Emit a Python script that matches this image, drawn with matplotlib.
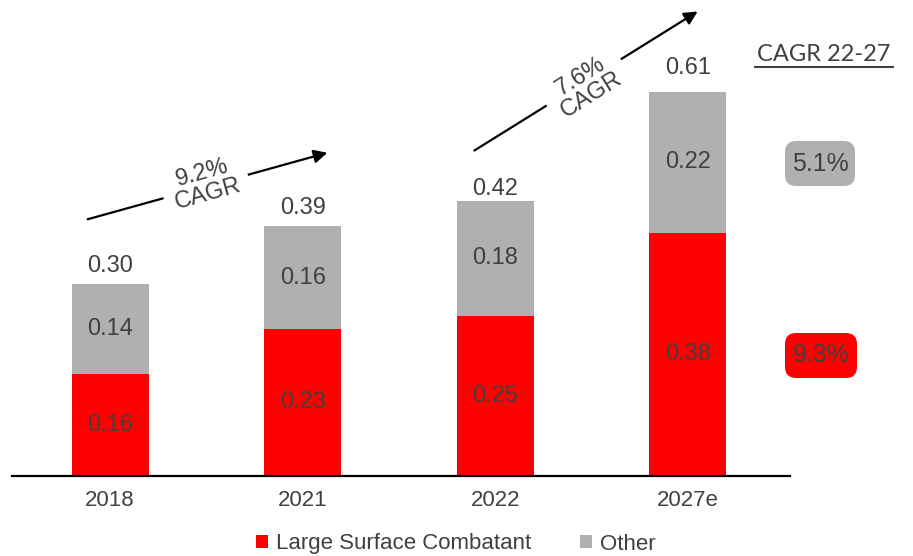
import matplotlib.pyplot as plt
from matplotlib.patches import FancyBboxPatch, FancyArrowPatch, Patch
import numpy as np

plt.rcParams['font.family'] = ['Liberation Sans', 'DejaVu Sans']

# ---- data ----
years = ["2018", "2021", "2022", "2027e"]
large_surface = [0.16, 0.23, 0.25, 0.38]
other = [0.14, 0.16, 0.18, 0.22]
totals = [0.30, 0.39, 0.42, 0.61]
cagr_labels = ["9.2%\nCAGR", "7.6%\nCAGR"]
seg_cagr = ["5.1%", "9.3%"]

RED = "#ff0000"
GREY = "#b0b0b0"
TXT = "#404040"

W, H = 913, 556
fig = plt.figure(figsize=(W / 100, H / 100), dpi=100)

def fx(px):
    return px / W

def fy(py):
    return 1 - py / H

# axes spans the baseline line from x=12 to x=790
ax = fig.add_axes([fx(12), fy(476), fx(790) - fx(12), (476 - 28) / H])
x = np.arange(len(years))
ax.bar(x, large_surface, width=0.4, color=RED)
ax.bar(x, other, width=0.4, bottom=large_surface, color=GREY)

for i in range(len(years)):
    ax.text(x[i], large_surface[i] / 2, f"{large_surface[i]:.2f}",
            ha="center", va="center", fontsize=17, color=TXT)
    ax.text(x[i], large_surface[i] + other[i] / 2, f"{other[i]:.2f}",
            ha="center", va="center", fontsize=17, color=TXT)
    ax.annotate(f"{totals[i]:.2f}", (x[i], totals[i]), xytext=(0, 5),
                textcoords="offset points", ha="center", va="bottom",
                fontsize=17, color=TXT)

ax.set_xlim(-0.509, 3.53)
ax.set_ylim(0, 0.70)
ax.set_xticks(x)
ax.set_xticklabels(years, fontsize=16, color=TXT)
ax.tick_params(axis="x", length=0, pad=10)
ax.set_yticks([])
for s in ["left", "right", "top"]:
    ax.spines[s].set_visible(False)
ax.spines["bottom"].set_linewidth(1.6)
ax.spines["bottom"].set_color("black")

# CAGR arrows across the top (start, end, label centre, angle)
arrows = [((85, 220), (330, 152), (205, 184), 15.5),
          ((472, 152), (700, 10), (586, 86), 32)]
for (p0, p1, c, ang), lab in zip(arrows, cagr_labels):
    fig.text(fx(c[0]), fy(c[1]), lab, rotation=ang, rotation_mode="anchor",
             ha="center", va="center", fontsize=17, color=TXT,
             linespacing=1.0, zorder=5,
             bbox=dict(facecolor="white", edgecolor="none", pad=7))
    fig.add_artist(FancyArrowPatch(
        (fx(p0[0]), fy(p0[1])), (fx(p1[0]), fy(p1[1])),
        transform=fig.transFigure, arrowstyle="-|>", mutation_scale=20,
        color="black", lw=1.6, zorder=3))

# segment CAGR side panel
fig.text(fx(824), fy(54), "CAGR 22-27", ha="center", va="center",
         fontsize=17, color=TXT, family=["Lato", "DejaVu Sans"])
fig.add_artist(plt.Line2D([fx(755), fx(893)], [fy(67), fy(67)],
                          color=TXT, lw=1.5))

boxes = [(785, 141, 70, 45, GREY), (785, 333, 72, 45, RED)]
for (bx, by, bw, bh, col), lab in zip(boxes, seg_cagr):
    fig.add_artist(FancyBboxPatch((fx(bx), fy(by + bh)), fx(bw), bh / H,
                                  boxstyle="round,pad=0,rounding_size=0.012",
                                  transform=fig.transFigure, facecolor=col,
                                  edgecolor="none", mutation_aspect=W / H))
    fig.text(fx(bx + bw / 2), fy(by + bh / 2), lab, ha="center", va="center",
             fontsize=18, color=TXT)

handles = [Patch(facecolor=RED, label="Large Surface Combatant"),
           Patch(facecolor=GREY, label="Other")]
fig.legend(handles=handles, loc="center", bbox_to_anchor=(fx(456), fy(544)),
           ncol=2, frameon=False, fontsize=16, handlelength=0.55,
           handleheight=0.55, handletextpad=0.35, columnspacing=2.2,
           labelcolor=TXT)

fig.savefig("out.png", dpi=100)
